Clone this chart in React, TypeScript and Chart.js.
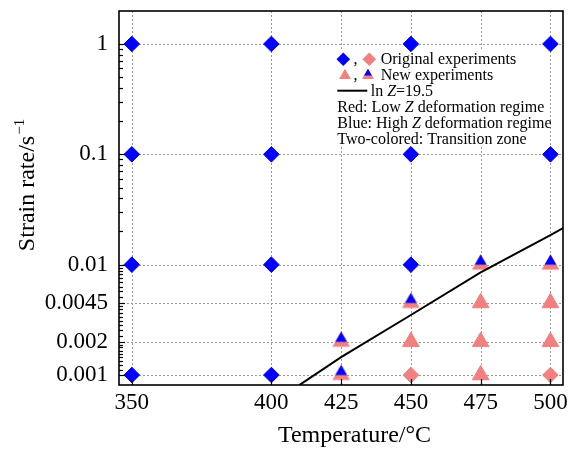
import React, { useEffect, useRef } from 'react';
import { Chart, registerables } from 'chart.js';

Chart.register(...registerables);

const BLUE = '#0000FF';
const PINK = '#F28080';
const FAMILY = "'Liberation Serif', 'Times New Roman', serif";

// ---- Data ----
const blueDiamondT = [350, 350, 350, 350, 400, 400, 400, 400, 450, 450, 450, 500, 500];
const blueDiamondRate = [1, 0.1, 0.01, 0.001, 1, 0.1, 0.01, 0.001, 1, 0.1, 0.01, 1, 0.1];
const pinkDiamondT = [450, 500];
const pinkDiamondRate = [0.001, 0.001];
const pinkTriangleT = [450, 475, 475, 475, 500, 500];
const pinkTriangleRate = [0.002, 0.001, 0.002, 0.0045, 0.002, 0.0045];
const twoColorT = [425, 425, 450, 475, 500];
const twoColorRate = [0.001, 0.002, 0.0045, 0.01, 0.01];
const lnZLineT = [410, 425, 450, 475, 500, 505];
const lnZLineRate = [0.00081, 0.00145, 0.0035, 0.0085, 0.0185, 0.0218];

const xTickValues = [350, 400, 425, 450, 475, 500];
const xTickLabels = ['350', '400', '425', '450', '475', '500'];
const yTickValues = [0.001, 0.002, 0.0045, 0.01, 0.1, 1];
const yTickLabels = ['0.001', '0.002', '0.0045', '0.01', '0.1', '1'];
const xRange = [345.4, 504.5];
const yRange = [0.000812, 1.99];

const pts = (xs: number[], ys: number[]) => xs.map((x, i) => ({ x, y: ys[i] }));

function triPath(ctx: CanvasRenderingContext2D, cx: number, cy: number, r: number) {
  const s = 0.8660254 * r;
  ctx.beginPath();
  ctx.moveTo(cx, cy - r);
  ctx.lineTo(cx + s, cy + r / 2);
  ctx.lineTo(cx - s, cy + r / 2);
  ctx.closePath();
}

function drawTwoColorTri(ctx: CanvasRenderingContext2D, cx: number, cy: number, r: number) {
  ctx.save();
  triPath(ctx, cx, cy, r);
  ctx.fillStyle = PINK;
  ctx.fill();
  ctx.beginPath();
  ctx.rect(cx - r - 2, cy - r - 2, 2 * r + 4, r + 2);
  ctx.clip();
  triPath(ctx, cx, cy, r);
  ctx.fillStyle = BLUE;
  ctx.fill();
  ctx.restore();
}

function makeTwoColorImage(r: number) {
  const c = document.createElement('canvas');
  const size = Math.ceil(2 * r + 2);
  c.width = size;
  c.height = size;
  const ctx = c.getContext('2d')!;
  drawTwoColorTri(ctx, size / 2, size / 2, r);
  return c;
}

function diamondPath(ctx: CanvasRenderingContext2D, cx: number, cy: number, r: number) {
  ctx.beginPath();
  ctx.moveTo(cx, cy - r);
  ctx.lineTo(cx + r, cy);
  ctx.lineTo(cx, cy + r);
  ctx.lineTo(cx - r, cy);
  ctx.closePath();
}

function drawRuns(ctx: CanvasRenderingContext2D, x: number, y: number, runs: [string, boolean][], size: number) {
  let cx = x;
  for (const [t, it] of runs) {
    ctx.font = `${it ? 'italic ' : ''}${size}px ${FAMILY}`;
    ctx.fillText(t, cx, y);
    cx += ctx.measureText(t).width;
  }
}

const decorPlugin = {
  id: 'decor',
  beforeDatasetsDraw(chart: any) {
    const { ctx, chartArea: ca, scales } = chart;
    const x = scales.x;
    const y = scales.y;
    ctx.save();
    // grid lines
    ctx.strokeStyle = '#9a9a9a';
    ctx.lineWidth = 1;
    ctx.setLineDash([2, 2]);
    for (const v of xTickValues) {
      const px = Math.round(x.getPixelForValue(v)) + 0.5;
      ctx.beginPath();
      ctx.moveTo(px, ca.top);
      ctx.lineTo(px, ca.bottom);
      ctx.stroke();
    }
    for (const v of yTickValues) {
      const py = Math.round(y.getPixelForValue(v)) + 0.5;
      ctx.beginPath();
      ctx.moveTo(ca.left, py);
      ctx.lineTo(ca.right, py);
      ctx.stroke();
    }
    ctx.setLineDash([]);

    // legend box
    ctx.fillStyle = '#fff';
    ctx.fillRect(334, 49, 215, 98);

    ctx.fillStyle = '#000';
    ctx.textAlign = 'left';
    ctx.textBaseline = 'alphabetic';
    // row 1
    diamondPath(ctx, 343.3, 59.3, 6.8);
    ctx.fillStyle = BLUE;
    ctx.fill();
    diamondPath(ctx, 369.3, 59.3, 6.8);
    ctx.fillStyle = PINK;
    ctx.fill();
    ctx.fillStyle = '#000';
    drawRuns(ctx, 353.5, 64, [[',', false]], 16);
    drawRuns(ctx, 380.7, 64, [['Original experiments', false]], 16);
    // row 2
    triPath(ctx, 345, 75.5, 6.8);
    ctx.fillStyle = PINK;
    ctx.fill();
    drawTwoColorTri(ctx, 368, 75.5, 6.8);
    ctx.fillStyle = '#000';
    drawRuns(ctx, 353.5, 80, [[',', false]], 16);
    drawRuns(ctx, 380.7, 80, [['New experiments', false]], 16);
    // row 3
    ctx.strokeStyle = '#000';
    ctx.lineWidth = 2;
    ctx.beginPath();
    ctx.moveTo(337.3, 90.7);
    ctx.lineTo(367.3, 90.7);
    ctx.stroke();
    drawRuns(ctx, 370.7, 96, [['ln ', false], ['Z', true], ['=19.5', false]], 16);
    // rows 4-6
    drawRuns(ctx, 337.3, 112.3, [['Red: Low ', false], ['Z', true], [' deformation regime', false]], 16);
    drawRuns(ctx, 337.3, 128, [['Blue: High ', false], ['Z', true], [' deformation regime', false]], 16);
    drawRuns(ctx, 337.3, 143.5, [['Two-colored: Transition zone', false]], 16);
    ctx.restore();
  },
  afterDatasetsDraw(chart: any) {
    const { ctx, chartArea: ca, scales } = chart;
    const x = scales.x;
    const y = scales.y;
    ctx.save();
    ctx.strokeStyle = '#000';
    ctx.lineWidth = 1.2;
    // y major ticks (inward)
    for (const v of yTickValues) {
      const py = Math.round(y.getPixelForValue(v)) + 0.5;
      ctx.beginPath();
      ctx.moveTo(ca.left, py);
      ctx.lineTo(ca.left + 6, py);
      ctx.stroke();
    }
    // y minor ticks: 8 between each pair of major ticks
    for (let i = 0; i < yTickValues.length - 1; i++) {
      const a = yTickValues[i];
      const b = yTickValues[i + 1];
      for (let k = 1; k <= 8; k++) {
        const v = a + ((b - a) * k) / 9;
        const py = Math.round(y.getPixelForValue(v)) + 0.5;
        ctx.beginPath();
        ctx.moveTo(ca.left, py);
        ctx.lineTo(ca.left + 4, py);
        ctx.stroke();
      }
    }
    // x major ticks (inward)
    for (const v of xTickValues) {
      const px = Math.round(x.getPixelForValue(v)) + 0.5;
      ctx.beginPath();
      ctx.moveTo(px, ca.bottom);
      ctx.lineTo(px, ca.bottom - 6);
      ctx.stroke();
    }
    // frame
    ctx.lineWidth = 1.6;
    ctx.strokeRect(ca.left, ca.top, ca.right - ca.left, ca.bottom - ca.top);
    ctx.restore();
  },
  afterDraw(chart: any) {
    const { ctx } = chart;
    ctx.save();
    ctx.fillStyle = '#000';
    ctx.textBaseline = 'alphabetic';
    ctx.textAlign = 'center';
    ctx.font = `24px ${FAMILY}`;
    ctx.fillText('Temperature/\u00B0C', 354.5, 442);

    ctx.translate(34, 185);
    ctx.rotate(-Math.PI / 2);
    ctx.textAlign = 'left';
    ctx.font = `24px ${FAMILY}`;
    const main = 'Strain rate/s';
    const w1 = ctx.measureText(main).width;
    ctx.font = `15px ${FAMILY}`;
    const sup = '\u22121';
    const w2 = ctx.measureText(sup).width;
    const start = -(w1 + w2 + 1) / 2;
    ctx.font = `24px ${FAMILY}`;
    ctx.fillText(main, start, 0);
    ctx.font = `15px ${FAMILY}`;
    ctx.fillText(sup, start + w1 + 1, -10);
    ctx.restore();
  },
};

export default function App() {
  const ref = useRef<HTMLCanvasElement>(null);
  useEffect(() => {
    document.body.style.margin = '0';
    const canvas = ref.current!;
    const triImg = makeTwoColorImage(10.2);
    const tickFont = { family: FAMILY, size: 23 };
    const chart = new Chart(canvas, {
      type: 'scatter',
      data: {
        datasets: [
          {
            label: 'ln Z=19.5',
            data: pts(lnZLineT, lnZLineRate),
            showLine: true,
            borderColor: '#000',
            borderWidth: 2,
            pointRadius: 0,
            fill: false,
            order: 0,
          } as any,
          {
            label: 'Transition (new)',
            data: pts(twoColorT, twoColorRate),
            pointStyle: triImg as any,
            pointRadius: 10,
            backgroundColor: BLUE,
            borderColor: BLUE,
            order: 1,
          },
          {
            label: 'Low Z (new)',
            data: pts(pinkTriangleT, pinkTriangleRate),
            pointStyle: 'triangle',
            pointRadius: 9.6,
            backgroundColor: PINK,
            borderColor: PINK,
            borderWidth: 1,
            order: 2,
          },
          {
            label: 'Low Z (original)',
            data: pts(pinkDiamondT, pinkDiamondRate),
            pointStyle: 'rectRot',
            pointRadius: 7.8,
            backgroundColor: PINK,
            borderColor: PINK,
            borderWidth: 1,
            order: 3,
          },
          {
            label: 'High Z (original)',
            data: pts(blueDiamondT, blueDiamondRate),
            pointStyle: 'rectRot',
            pointRadius: 7.8,
            backgroundColor: BLUE,
            borderColor: BLUE,
            borderWidth: 1,
            order: 4,
          },
        ],
      },
      options: {
        responsive: false,
        animation: false,
        events: [],
        devicePixelRatio: 1,
        layout: { padding: { left: 0, right: 9.5, top: 10, bottom: 0 } },
        plugins: {
          legend: { display: false },
          tooltip: { enabled: false },
          title: { display: false },
        },
        scales: {
          x: {
            type: 'linear',
            min: xRange[0],
            max: xRange[1],
            afterBuildTicks: (s: any) => {
              s.ticks = xTickValues.map((v) => ({ value: v }));
            },
            afterFit: (s: any) => {
              s.height = 65;
              s.paddingLeft = 0;
              s.paddingRight = 0;
            },
            ticks: {
              callback: (_v: any, i: number) => xTickLabels[i],
              font: tickFont,
              color: '#000',
              padding: 4,
              maxRotation: 0,
              autoSkip: false,
            },
            grid: { display: false, drawTicks: false },
            border: { display: false },
          },
          y: {
            type: 'logarithmic',
            min: yRange[0],
            max: yRange[1],
            afterBuildTicks: (s: any) => {
              s.ticks = yTickValues.map((v) => ({ value: v }));
            },
            afterFit: (s: any) => {
              s.width = 119;
              s.paddingTop = 0;
              s.paddingBottom = 0;
            },
            ticks: {
              callback: (_v: any, i: number) => yTickLabels[i],
              font: tickFont,
              color: '#000',
              padding: 11,
              autoSkip: false,
            },
            grid: { display: false, drawTicks: false },
            border: { display: false },
          },
        },
      } as any,
      plugins: [decorPlugin],
    });
    return () => chart.destroy();
  }, []);
  return (
    <canvas
      ref={ref}
      width={574}
      height={450}
      style={{ display: 'block', width: '574px', height: '450px' }}
    />
  );
}
